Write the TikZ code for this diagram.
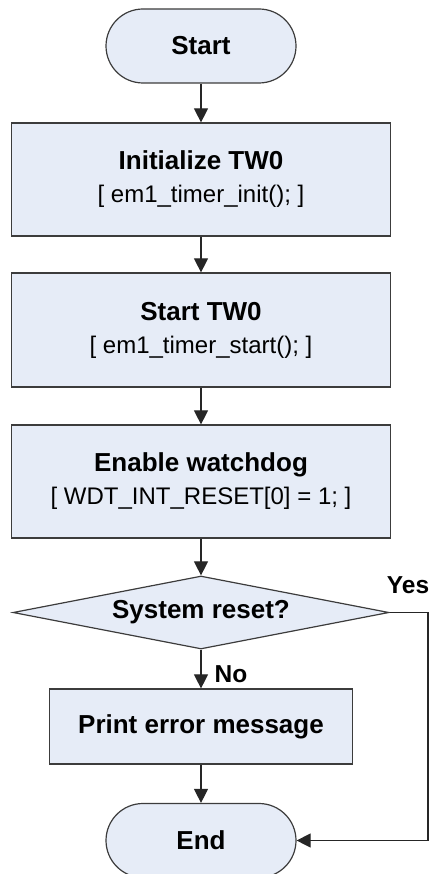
\documentclass[tikz,border=0pt]{standalone}
\usepackage{fontspec}
\setmainfont{Liberation Sans}
\usetikzlibrary{shapes.geometric,arrows.meta}
\definecolor{boxfill}{RGB}{230,236,247}
\definecolor{boxline}{RGB}{60,60,60}
\tikzset{
  base/.style={draw=boxline, fill=boxfill, line width=1.2pt, inner sep=0pt, align=center,
    font=\fontsize{26}{33}\selectfont\bfseries},
  term/.style={base, rectangle, rounded corners=37pt, minimum width=190pt, minimum height=74pt},
  stepbox/.style={base, rectangle, minimum width=379pt},
  decision/.style={base, diamond, aspect=5.15, minimum width=376pt, minimum height=73pt},
  conn/.style={line width=1.1pt, draw=black!85, -{Triangle[width=14pt,length=14pt]}},
  lbl/.style={font=\fontsize{24.5}{28}\selectfont\bfseries, inner sep=0pt},
}
\newcommand{\codeline}[1]{{\fontsize{24}{33}\selectfont\mdseries #1}}
\begin{document}
\begin{tikzpicture}[x=1pt,y=-1pt]
\useasboundingbox (0,0) rectangle (435,874);
\node[term] (start) at (201,46) {Start};
\node[stepbox, minimum height=113pt] (init) at (201,179.5) {Initialize TW0\\\codeline{[ em1\_timer\_init(); ]}};
\node[stepbox, minimum height=114pt] (tw) at (201,330) {Start TW0\\\codeline{[ em1\_timer\_start(); ]}};
\node[stepbox, minimum height=113pt] (wd) at (201,481.5) {Enable watchdog\\\codeline{[ WDT\_INT\_RESET[0] = 1; ]}};
\node[decision] (dec) at (201,612.5) {System reset?};
\node[base, rectangle, minimum width=303pt, minimum height=75pt] (print) at (201,726.5) {Print error message};
\node[term] (end) at (201,840.5) {End};
\coordinate (yc1) at (428,612.5);
\coordinate (yc2) at (428,840.5);
\draw[conn] (start) -- (init);
\draw[conn] (init) -- (tw);
\draw[conn] (tw) -- (wd);
\draw[conn] (wd) -- (dec);
\draw[conn] (dec) -- (print);
\draw[conn] (print) -- (end);
\draw[conn] (dec.east) -- (yc1) -- (yc2) -- (end.east);
\node[lbl] (yes) at (408,585) {Yes};
\node[lbl] (no) at (231,674) {No};
\end{tikzpicture}
\end{document}
